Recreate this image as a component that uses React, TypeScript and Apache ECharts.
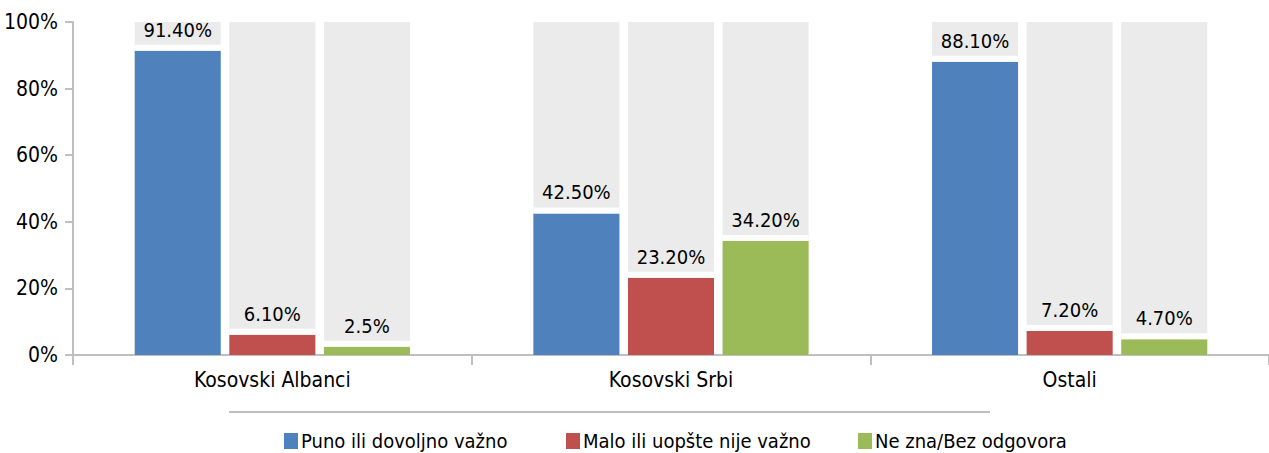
import React, { useEffect, useRef } from "react";
import * as echarts from "echarts";

const categories = ["Kosovski Albanci", "Kosovski Srbi", "Ostali"];
const seriesNames = ["Puno ili dovoljno važno", "Malo ili uopšte nije važno", "Ne zna/Bez odgovora"];
const puno = [91.4, 42.5, 88.1];
const malo = [6.1, 23.2, 7.2];
const neZna = [2.5, 34.2, 4.7];
const punoLabels = ["91.40%", "42.50%", "88.10%"];
const maloLabels = ["6.10%", "23.20%", "7.20%"];
const neZnaLabels = ["2.5%", "34.20%", "4.70%"];
const yTicks = [0, 20, 40, 60, 80, 100];

const colors = ["#4f81bd", "#c0504d", "#9bbb59"];
const legendLefts = [284, 566, 858];
const FONT = "'DejaVu Sans Condensed', 'Liberation Sans Narrow', 'DejaVu Sans', sans-serif";
const GAP = 1.8;

export default function App() {
  const ref = useRef<HTMLDivElement>(null);
  useEffect(() => {
    document.body.style.margin = "0";
    const chart = echarts.init(ref.current!, undefined, { renderer: "svg" });
    const values = [puno, malo, neZna];
    const labels = [punoLabels, maloLabels, neZnaLabels];
    const mainSeries = values.map((vals, i) => ({
      name: seriesNames[i],
      type: "bar",
      stack: "s" + i,
      data: vals,
      barWidth: 86,
      barGap: "10%",
      itemStyle: { color: colors[i] },
      showBackground: true,
      backgroundStyle: { color: "#ebebeb" },
      z: 2,
    }));
    const gapSeries = values.map((vals, i) => ({
      name: "gap" + i,
      type: "bar",
      stack: "s" + i,
      data: vals.map(() => GAP),
      barWidth: 86,
      barGap: "10%",
      itemStyle: { color: "#ffffff" },
      z: 3,
      label: {
        show: true,
        position: "top",
        distance: 5,
        color: "#000",
        fontSize: 20,
        fontFamily: FONT,
        formatter: (p: any) => labels[i][p.dataIndex],
      },
      emphasis: { disabled: true },
    }));
    chart.setOption({
      animation: false,
      textStyle: { fontFamily: FONT },
      grid: { left: 73, right: 0, top: 22, bottom: 98 },
      legend: seriesNames.map((name, i) => ({
        data: [name],
        left: legendLefts[i],
        top: 431,
        padding: 0,
        icon: "rect",
        itemWidth: 14,
        itemHeight: 16,
        selectedMode: false,
        textStyle: { fontSize: 20, color: "#000", fontFamily: FONT, padding: [0, 0, 0, -2] },
      })),
      graphic: [
        {
          type: "line",
          shape: { x1: 229, y1: 412, x2: 990, y2: 412 },
          style: { stroke: "#bfbfbf", lineWidth: 2 },
        },
      ],
      xAxis: {
        type: "category",
        data: categories,
        axisLine: { lineStyle: { color: "#bfbfbf", width: 2 } },
        axisTick: { show: true, length: 10, interval: 0, lineStyle: { color: "#bfbfbf", width: 2 } },
        axisLabel: { color: "#000", fontSize: 21, margin: 14, fontFamily: FONT },
      },
      yAxis: {
        type: "value",
        min: yTicks[0],
        max: yTicks[yTicks.length - 1],
        interval: 20,
        axisLine: { show: true, lineStyle: { color: "#bfbfbf", width: 2 } },
        axisTick: { show: true, length: 8, lineStyle: { color: "#bfbfbf", width: 2 } },
        splitLine: { show: false },
        axisLabel: { color: "#000", fontSize: 21, margin: 15, formatter: "{value}%", fontFamily: FONT },
      },
      series: [...mainSeries, ...gapSeries],
    });
    return () => chart.dispose();
  }, []);
  return <div ref={ref} style={{ width: 1269, height: 453 }} />;
}
